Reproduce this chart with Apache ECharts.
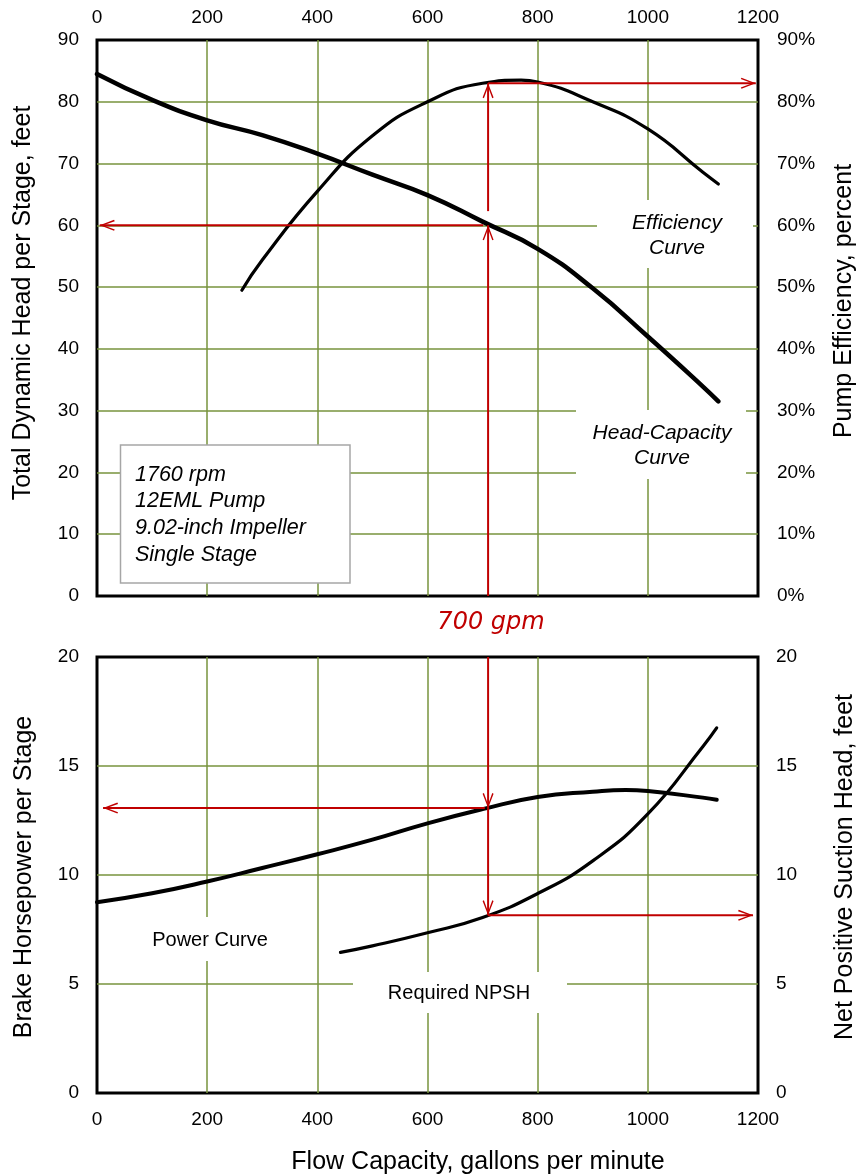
<!DOCTYPE html>
<html>
<head>
<meta charset="utf-8">
<script src="https://cdn.jsdelivr.net/npm/echarts@6/dist/echarts.min.js"></script>
<style>
html,body{margin:0;padding:0;background:#fff;}
#chart{width:859px;height:1174px;}
</style>
</head>
<body>
<div id="chart"></div>
<script>
// ---- Data ----
const headFlow = [0, 100, 200, 300, 400, 500, 600, 700, 800, 900, 1000, 1100, 1128];
const headFeet = [84.5, 80.3, 77.0, 74.6, 71.6, 68.2, 64.9, 60.6, 56.2, 49.8, 42.0, 33.9, 31.5];

const effFlow = [263, 300, 400, 500, 600, 700, 770, 800, 900, 1000, 1100, 1128];
const effPct = [49.5, 54.4, 65.5, 74.5, 80.0, 83.0, 83.5, 83.2, 80.0, 75.6, 68.6, 66.7];

const powFlow = [0, 100, 200, 300, 400, 500, 600, 700, 800, 900, 960, 1000, 1100, 1125];
const powHp = [8.75, 9.16, 9.7, 10.32, 10.95, 11.62, 12.37, 13.02, 13.58, 13.82, 13.9, 13.85, 13.55, 13.45];

const npshFlow = [442, 500, 600, 700, 800, 900, 1000, 1100, 1125];
const npshFeet = [6.45, 6.75, 7.35, 8.05, 9.15, 10.65, 12.8, 15.9, 16.75];

// operating point guide lines (700 gpm)
const opFlow = 710;
const opHead = 60;
const opEff = 83;
const opPower = 13.07;
const opNpsh = 8.15;
const guideHeadUp = [[opFlow, 0], [opFlow, opHead]];
const guideEffUp = [[opFlow, 62.3], [opFlow, opEff]];
const guideHeadLeft = [[701, opHead], [5, opHead]];
const guideEffRight = [[opFlow, opEff], [1196, opEff]];
const guidePowDown = [[opFlow, 20], [opFlow, opPower]];
const guideNpshDown = [[opFlow, opPower], [opFlow, opNpsh]];
const guidePowLeft = [[704, opPower], [11, opPower]];
const guideNpshRight = [[opFlow, opNpsh], [1191, opNpsh]];

const infoLines = ['1760 rpm', '12EML Pump', '9.02-inch Impeller', 'Single Stage'];

// ---- Styles ----
const FONT = '"Liberation Sans", Arial, sans-serif';
const GRID_GREEN = '#77933c';
const RED = '#c00000';

const zip = (xs, ys) => xs.map((x, i) => [x, ys[i]]);

const arrowUp = 'path://M5 0 L10 12.4 L8.8 13 L5 3.2 L1.2 13 L0 12.4 Z';
const arrowDown = 'path://M5 13 L10 0.6 L8.8 0 L5 9.8 L1.2 0 L0 0.6 Z';
const arrowLeft = 'path://M0 5 L12.4 0 L13 1.2 L3.2 5 L13 8.8 L12.4 10 Z';
const arrowRight = 'path://M13 5 L0.6 0 L0 1.2 L9.8 5 L0 8.8 L0.6 10 Z';

const plain = v => String(v);

function valueAxis(extra, labelExtra) {
  return Object.assign({
    type: 'value',
    axisLine: { show: false },
    axisTick: { show: false },
    axisLabel: Object.assign({ color: '#000', fontSize: 19, fontFamily: FONT, formatter: plain }, labelExtra),
    splitLine: { show: true, showMinLine: false, showMaxLine: false,
                 lineStyle: { color: GRID_GREEN, width: 1.5 } }
  }, extra);
}

function guide(data, xi, yi) {
  return { type: 'line', xAxisIndex: xi, yAxisIndex: yi, data: data, symbol: 'none',
           lineStyle: { color: RED, width: 2 }, z: 4, silent: true };
}

function curve(name, xs, ys, xi, yi, width) {
  return { name: name, type: 'line', xAxisIndex: xi, yAxisIndex: yi,
           data: zip(xs, ys), smooth: 0.5, symbol: 'none',
           lineStyle: { color: '#000', width: width, cap: 'round' }, z: 3 };
}

function label(x, y, text, font, extra, lineHeight) {
  return Object.assign({ type: 'text', x: x, y: y, z: 6,
    style: { text: text, font: font, fill: '#000', align: 'center', verticalAlign: 'middle',
             textAlign: 'center', textVerticalAlign: 'middle', lineHeight: lineHeight || 25 } }, extra);
}

const chart = echarts.init(document.getElementById('chart'), null, { renderer: 'canvas' });

const option = {
  animation: false,
  backgroundColor: '#fff',
  grid: [
    { left: 97, right: 101, top: 40, height: 556, show: true, borderColor: '#000', borderWidth: 3, backgroundColor: 'transparent' },
    { left: 97, right: 101, top: 657, height: 436, show: true, borderColor: '#000', borderWidth: 3, backgroundColor: 'transparent' }
  ],
  xAxis: [
    valueAxis({ gridIndex: 0, position: 'top', min: 0, max: 1200, interval: 200 }, { margin: 13 }),
    valueAxis({ gridIndex: 1, position: 'bottom', min: 0, max: 1200, interval: 200 }, { margin: 17 })
  ],
  yAxis: [
    valueAxis({ gridIndex: 0, position: 'left', min: 0, max: 90, interval: 10 }, { margin: 18 }),
    valueAxis({ gridIndex: 0, position: 'right', min: 0, max: 90, interval: 10, splitLine: { show: false } },
              { margin: 19, formatter: '{value}%' }),
    valueAxis({ gridIndex: 1, position: 'left', min: 0, max: 20, interval: 5 }, { margin: 18 }),
    valueAxis({ gridIndex: 1, position: 'right', min: 0, max: 20, interval: 5, splitLine: { show: false } },
              { margin: 18 })
  ],
  series: [
    curve('Head-Capacity Curve', headFlow, headFeet, 0, 0, 4.5),
    curve('Efficiency Curve', effFlow, effPct, 0, 1, 3.2),
    curve('Power Curve', powFlow, powHp, 1, 2, 4),
    curve('Required NPSH', npshFlow, npshFeet, 1, 3, 3.2),

    guide(guideHeadUp, 0, 0),
    guide(guideEffUp, 0, 1),
    guide(guideHeadLeft, 0, 0),
    guide(guideEffRight, 0, 1),
    guide(guidePowDown, 1, 2),
    guide(guideNpshDown, 1, 3),
    guide(guidePowLeft, 1, 2),
    guide(guideNpshRight, 1, 3),

    { type: 'scatter', xAxisIndex: 0, yAxisIndex: 0, z: 5, silent: true,
      itemStyle: { color: RED, opacity: 1 },
      data: [
        { value: guideHeadUp[1], symbol: arrowUp, symbolSize: [11, 15], symbolOffset: [0, 7.5] },
        { value: guideHeadLeft[1], symbol: arrowLeft, symbolSize: [15, 11], symbolOffset: [7.5, 0] },
        { value: guideEffUp[1], symbol: arrowUp, symbolSize: [11, 15], symbolOffset: [0, 7.5] },
        { value: guideEffRight[1], symbol: arrowRight, symbolSize: [15, 11], symbolOffset: [-7.5, 0] }
      ] },
    { type: 'scatter', xAxisIndex: 1, yAxisIndex: 2, z: 5, silent: true,
      itemStyle: { color: RED, opacity: 1 },
      data: [
        { value: guidePowDown[1], symbol: arrowDown, symbolSize: [11, 15], symbolOffset: [0, -7.5] },
        { value: guidePowLeft[1], symbol: arrowLeft, symbolSize: [15, 11], symbolOffset: [7.5, 0] },
        { value: guideNpshDown[1], symbol: arrowDown, symbolSize: [11, 15], symbolOffset: [0, -7.5] },
        { value: guideNpshRight[1], symbol: arrowRight, symbolSize: [15, 11], symbolOffset: [-7.5, 0] }
      ] }
  ],
  graphic: [
    // axis titles
    label(23, 303, 'Total Dynamic Head per Stage, feet', '25px ' + FONT, { rotation: Math.PI / 2, z: 10 }),
    label(844, 301, 'Pump Efficiency, percent', '25px ' + FONT, { rotation: Math.PI / 2, z: 10 }),
    label(24, 877, 'Brake Horsepower per Stage', '25px ' + FONT, { rotation: Math.PI / 2, z: 10 }),
    label(845, 867, 'Net Positive Suction Head, feet', '25px ' + FONT, { rotation: Math.PI / 2, z: 10 }),
    label(478, 1162, 'Flow Capacity, gallons per minute', '25px ' + FONT, { z: 10 }),

    // curve labels with white backgrounds
    { type: 'rect', z: 1, shape: { x: 597, y: 200, width: 156, height: 68 }, style: { fill: '#fff' } },
    label(677, 235.5, 'Efficiency\nCurve', 'italic 21px ' + FONT, {}, 25.5),
    { type: 'rect', z: 1, shape: { x: 576, y: 410, width: 170, height: 69 }, style: { fill: '#fff' } },
    label(662, 446, 'Head-Capacity\nCurve', 'italic 21px ' + FONT, {}, 25),
    { type: 'rect', z: 1, shape: { x: 135, y: 917, width: 150, height: 44 }, style: { fill: '#fff' } },
    label(210, 940, 'Power Curve', '20px ' + FONT),
    { type: 'rect', z: 1, shape: { x: 353, y: 972, width: 214, height: 41 }, style: { fill: '#fff' } },
    label(459, 993, 'Required NPSH', '20px ' + FONT),

    // info box
    { type: 'rect', z: 1, shape: { x: 120.5, y: 445, width: 229.5, height: 138 },
      style: { fill: '#fff', stroke: '#a6a6a6', lineWidth: 1.5 } },
    { type: 'text', x: 135, y: 461.5, z: 6,
      style: { text: infoLines.join('\n'), font: 'italic 21.5px ' + FONT, lineHeight: 26.6, fill: '#000',
               align: 'left', verticalAlign: 'top', textAlign: 'left', textVerticalAlign: 'top' } },

    // operating point label
    { type: 'text', x: 491, y: 623, z: 10,
      style: { text: '700 gpm', font: 'italic 24px "DejaVu Sans", sans-serif', fill: RED,
               align: 'center', verticalAlign: 'middle', textAlign: 'center', textVerticalAlign: 'middle' } }
  ]
};

chart.setOption(option);
</script>
</body>
</html>
